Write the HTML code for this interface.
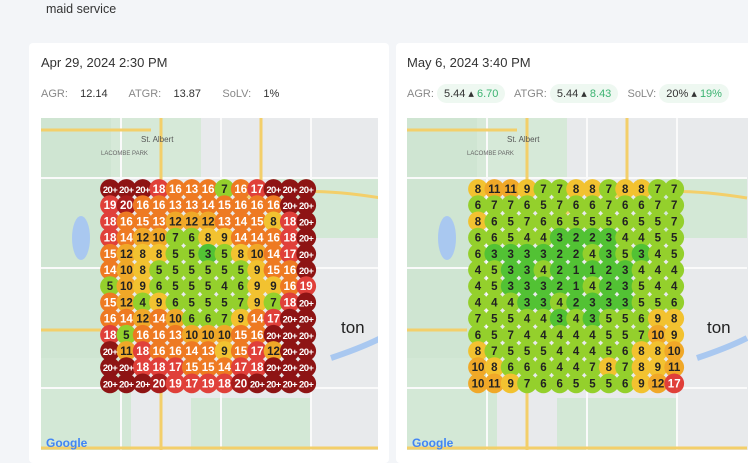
<!DOCTYPE html>
<html><head><meta charset="utf-8"><style>
body{margin:0;width:748px;height:450px;overflow:hidden;background:#f3f5f8;font-family:"Liberation Sans",sans-serif;position:relative}
.t{position:absolute;left:46px;top:2px;font-size:12.5px;color:#333}
.card{position:absolute;top:43px;height:420px;background:#fff;border-radius:4px}
.h{position:absolute;font-size:13px;color:#333}
.m{position:absolute;font-size:11px;color:#888}
.m b{font-weight:normal;color:#333}
.pill{display:inline-block;background:#eef8f1;border-radius:10px;padding:3px 7px;color:#333}
.pill i{font-style:normal;color:#3cb371}
svg{position:absolute}
</style></head><body>
<div class="t">maid service</div>
<div class="card" style="left:29px;width:360px"></div>
<div class="card" style="left:396px;width:360px"></div>
<div class="h" style="left:41px;top:55px">Apr 29, 2024 2:30 PM</div>
<div class="m" style="left:41px;top:88px">AGR:&nbsp;&nbsp;&nbsp; <b>12.14</b>&nbsp;&nbsp;&nbsp;&nbsp;&nbsp;&nbsp; ATGR:&nbsp;&nbsp;&nbsp; <b>13.87</b>&nbsp;&nbsp;&nbsp;&nbsp;&nbsp;&nbsp; SoLV:&nbsp;&nbsp;&nbsp; <b>1%</b></div>
<div class="h" style="left:407px;top:55px">May 6, 2024 3:40 PM</div>
<div class="m" style="left:407px;top:84px">AGR: <span class="pill">5.44 ▴ <i>6.70</i></span>&nbsp;&nbsp; ATGR: <span class="pill">5.44 ▴ <i>8.43</i></span>&nbsp;&nbsp; SoLV: <span class="pill">20% ▴ <i>19%</i></span></div>
<svg id="s1" style="left:41px;top:118px" width="337" height="332"></svg>
<svg id="s2" style="left:407px;top:118px" width="341" height="332"></svg>
<script>
var L=[
"20+ 20+ 20+ 18 16 13 16 7 16 17 20+ 20+ 20+",
"19 20 16 16 13 13 14 15 16 16 16 20+ 20+",
"18 16 15 13 12 12 12 13 14 15 8 18 20+",
"18 14 12 10 7 6 8 9 14 14 16 18 20+",
"15 12 8 8 5 5 3 5 8 10 14 17 20+",
"14 10 8 5 5 5 5 5 5 9 15 16 20+",
"5 10 9 6 5 5 5 4 6 9 9 16 19",
"15 12 4 9 6 5 5 5 7 9 7 18 20+",
"16 14 12 14 10 6 6 7 9 14 17 20+ 20+",
"18 5 16 16 13 10 10 10 15 16 20+ 20+ 20+",
"20+ 11 18 16 16 14 13 9 15 17 12 20+ 20+",
"20+ 20+ 18 18 17 15 15 14 17 18 20+ 20+ 20+",
"20+ 20+ 20+ 20 19 17 19 18 20 20+ 20+ 20+ 20+"];
var R=[
"8 11 11 9 7 7 8 8 7 8 8 7 7",
"6 7 7 6 5 7 6 6 7 6 6 7 7",
"8 6 5 7 6 6 5 5 5 6 5 5 7",
"6 6 5 4 4 3 2 2 3 4 4 5 5",
"6 3 3 3 3 2 2 4 3 5 3 4 5",
"4 5 3 3 4 2 1 1 2 3 4 4 4",
"4 5 3 3 3 2 1 4 2 3 5 4 4",
"4 4 4 3 3 4 2 3 3 3 5 5 6",
"7 5 5 4 4 3 4 3 5 5 6 9 8",
"6 5 7 4 4 4 4 4 5 5 7 10 9",
"8 7 5 5 5 4 4 4 5 6 8 8 10",
"10 8 6 6 6 4 4 7 8 7 8 9 11",
"10 11 9 7 6 6 5 5 5 6 9 12 17"];
function col(v){var n=parseInt(v);if(v.indexOf('+')>0)n=21;
if(n<=3)return'#52c234';if(n<=7)return'#94d02c';if(n<=9)return'#f2c230';if(n<=12)return'#f0a828';
if(n<=16)return'#ee7a22';if(n<=19)return'#e0403a';if(n==20)return'#a81c1c';return'#8e1414';}
function map(id,data,x0){var s='<rect width="100%" height="100%" fill="#e8eaec"/>'+
'<rect x="0" y="0" width="70" height="332" fill="#cfe5d2"/><rect x="70" y="0" width="90" height="60" fill="#d6e9d8"/>'+
'<rect x="230" y="60" width="110" height="60" fill="#d3e8d6"/><rect x="0" y="240" width="90" height="92" fill="#d3e8d6"/>'+
'<rect x="150" y="280" width="120" height="52" fill="#d3e8d6"/><ellipse cx="40" cy="120" rx="9" ry="22" fill="#a9c8f0"/>'+
'<path d="M0 60 H340 M0 150 H340 M0 270 H340 M80 0 V332 M180 0 V332 M270 0 V332" stroke="#fafafa" stroke-width="2" fill="none"/>'+
'<path d="M0 12 H110 M150 100 Q220 60 340 80 M120 0 V332 M0 330 H340 M220 0 V120 M0 212 H60" stroke="#f3cf6a" stroke-width="3" fill="none"/>'+
'<path d="M290 240 Q320 230 340 220" stroke="#a9c8f0" stroke-width="6" fill="none"/>'+
'<text x="100" y="24" font-size="8" fill="#555">St. Albert</text><text x="60" y="37" font-size="6" fill="#666">LACOMBE PARK</text>'+
'<text x="300" y="215" font-size="17" fill="#222">ton</text><text x="5" y="329" font-size="12" fill="#4285f4" font-weight="bold">Google</text>';
for(var r=0;r<13;r++){var a=data[r].split(' ');for(var c=0;c<13;c++){var v=a[c],cx=x0+c*16.35,cy=71+r*16.2,
n=parseInt(v),f=col(v),tc=(n>=13||v.indexOf('+')>0)?'#fff':'#222';
s+='<circle cx="'+cx+'" cy="'+cy+'" r="9.9" fill="'+f+'"/>';}}
for(var r=0;r<13;r++){var a=data[r].split(' ');for(var c=0;c<13;c++){var v=a[c],cx=x0+c*16.35,cy=71+r*16.2,
n=parseInt(v),tc=(n>=13||v.indexOf('+')>0)?'#fff':'#222';
s+='<text x="'+cx+'" y="'+(cy+4)+'" font-size="'+(v.length>2?9.5:11.5)+'" text-anchor="middle" fill="'+tc+'" font-weight="bold" letter-spacing="'+(v.length>2?-0.6:0)+'" font-family="Liberation Sans,sans-serif">'+v+'</text>';}}
document.getElementById(id).innerHTML=s;}
map('s1',L,69);map('s2',R,71);
</script>
</body></html>
